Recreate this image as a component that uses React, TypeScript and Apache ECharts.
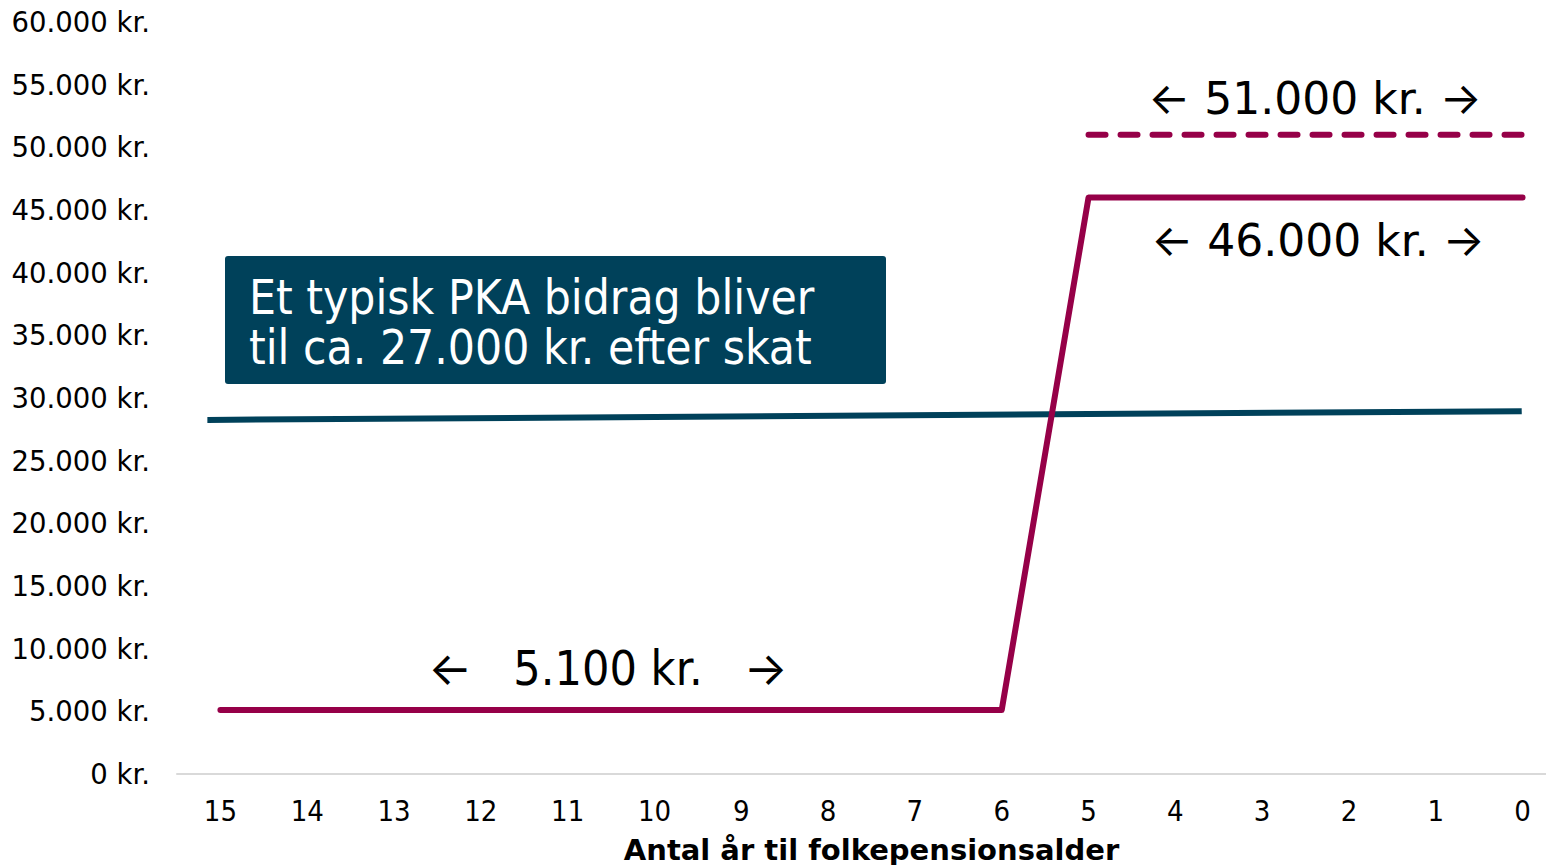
import React, { useEffect, useRef } from "react";
import * as echarts from "echarts";

const years = ["15", "14", "13", "12", "11", "10", "9", "8", "7", "6", "5", "4", "3", "2", "1", "0"];
const pkaValues = [5100, 5100, 5100, 5100, 5100, 5100, 5100, 5100, 5100, 5100, 46000, 46000, 46000, 46000, 46000, 46000];
const dashedValues = [null, null, null, null, null, null, null, null, null, null, 51000, 51000, 51000, 51000, 51000, 51000];
const blueLine: [number, number][] = [[15.15, 28250], [0.01, 28950]];
const boxLines = ["Et typisk PKA bidrag bliver", "til ca. 27.000 kr. efter skat"];
const label51 = "51.000 kr.";
const label46 = "46.000 kr.";
const label5 = "5.100 kr.";
const xName = "Antal år til folkepensionsalder";

const MAGENTA = "#960048";
const BLUE = "#00415a";
const COND = "'DejaVu Sans Condensed', 'DejaVu Sans', sans-serif";
const SANS = "'DejaVu Sans', sans-serif";
const ARROW = "Inter, 'DejaVu Sans', sans-serif";

export default function App() {
  const ref = useRef<HTMLDivElement>(null);
  useEffect(() => {
    if (!ref.current) return;
    const chart = echarts.init(ref.current, null, { renderer: "svg" });
    const arrowText = (t: string, gap: string) => `{a|←}${gap}${t}${gap}{a|→}`;
    chart.setOption({
      animation: false,
      grid: { left: 177, right: -20, top: 22, bottom: 91, outerBoundsMode: "none", containLabel: false },
      xAxis: [
        {
          type: "category",
          data: years,
          boundaryGap: true,
          axisLine: { show: true, lineStyle: { color: "#d9d9d9", width: 2 } },
          axisTick: { show: false },
          axisLabel: { fontFamily: COND, fontSize: 29, color: "#000", margin: 22 },
          name: xName,
          nameLocation: "middle",
          nameGap: 61,
          nameTextStyle: { fontFamily: SANS, fontSize: 29, fontWeight: "bold", color: "#000" },
        },
        {
          type: "value",
          inverse: true,
          min: -0.5,
          max: 15.5,
          show: false,
        },
      ],
      yAxis: {
        type: "value",
        min: 0,
        max: 60000,
        interval: 5000,
        axisLine: { show: false },
        axisTick: { show: false },
        splitLine: { show: false },
        axisLabel: {
          fontFamily: SANS,
          fontSize: 27.5,
          color: "#000",
          margin: 27,
          formatter: (v: number) => (v === 0 ? "0 kr." : v.toLocaleString("de-DE") + " kr."),
        },
      },
      series: [
        {
          type: "line",
          xAxisIndex: 1,
          data: blueLine,
          symbol: "none",
          lineStyle: { color: BLUE, width: 6 },
        },
        {
          type: "line",
          data: pkaValues,
          symbol: "none",
          lineStyle: { color: MAGENTA, width: 6, cap: "round", join: "round" },
        },
        {
          type: "line",
          data: dashedValues,
          symbol: "none",
          lineStyle: { color: MAGENTA, width: 6, type: [17, 15], cap: "round" },
        },
      ],
      graphic: [
        {
          type: "rect",
          shape: { x: 225, y: 256, width: 661, height: 128, r: 3 },
          style: { fill: BLUE },
        },
        {
          type: "text",
          x: 249,
          y: 297,
          style: { text: boxLines[0], fill: "#fff", font: `47.5px ${COND}`, verticalAlign: "middle" },
        },
        {
          type: "text",
          x: 249,
          y: 347,
          style: { text: boxLines[1], fill: "#fff", font: `47.5px ${COND}`, verticalAlign: "middle" },
        },
        {
          type: "text",
          x: 1315,
          y: 98,
          style: {
            text: arrowText(label51, " "),
            fill: "#000",
            font: `44px ${SANS}`,
            align: "center",
            verticalAlign: "middle",
            rich: { a: { fontFamily: ARROW, fontSize: 44, fill: "#000" } },
          },
        },
        {
          type: "text",
          x: 1318,
          y: 240,
          style: {
            text: arrowText(label46, " "),
            fill: "#000",
            font: `44px ${SANS}`,
            align: "center",
            verticalAlign: "middle",
            rich: { a: { fontFamily: ARROW, fontSize: 44, fill: "#000" } },
          },
        },
        {
          type: "text",
          x: 608,
          y: 668,
          style: {
            text: arrowText(label5, "   "),
            fill: "#000",
            font: `48px ${COND}`,
            align: "center",
            verticalAlign: "middle",
            rich: { a: { fontFamily: ARROW, fontSize: 46, fill: "#000" } },
          },
        },
      ],
    });
    return () => chart.dispose();
  }, []);
  return (
    <div
      ref={ref}
      style={{ position: "absolute", left: 0, top: 0, width: 1546, height: 865, background: "#fff" }}
    />
  );
}
